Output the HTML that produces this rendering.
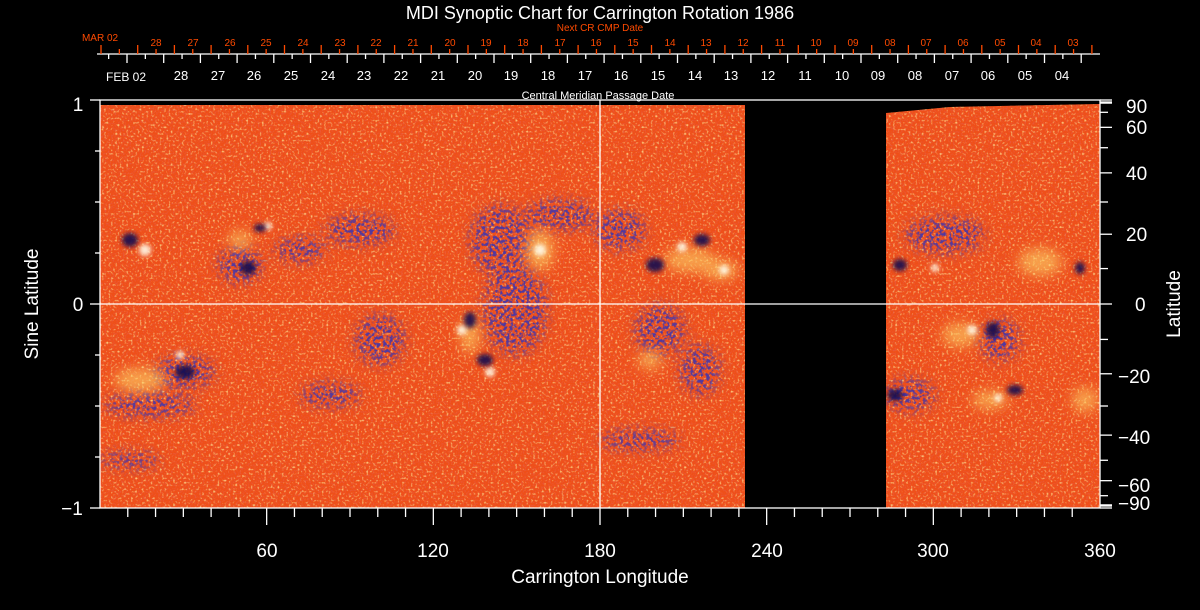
<!DOCTYPE html>
<html><head><meta charset="utf-8"><style>
html,body{margin:0;padding:0;background:#000;width:1200px;height:610px;overflow:hidden}
svg text{font-family:"Liberation Sans",sans-serif}
</style></head><body>
<svg id="s" width="1200" height="610" viewBox="0 0 1200 610" xmlns="http://www.w3.org/2000/svg">
<defs>
<filter id="b6" x="-50%" y="-50%" width="200%" height="200%"><feGaussianBlur stdDeviation="6"/></filter>
<filter id="b3" x="-50%" y="-50%" width="200%" height="200%"><feGaussianBlur stdDeviation="2.5"/></filter>
<filter id="noise" x="0" y="0" width="100%" height="100%">
<feTurbulence type="fractalNoise" baseFrequency="0.45" numOctaves="1" seed="3" result="t"/>
<feColorMatrix in="t" type="matrix" values="0 0 0 0 1  0 0 0 0 0.8  0 0 0 0 0.3  3 0 0 0 -1.65" />
</filter>
<filter id="noise2" x="0" y="0" width="100%" height="100%">
<feTurbulence type="fractalNoise" baseFrequency="0.6" numOctaves="1" seed="9" result="t"/>
<feColorMatrix in="t" type="matrix" values="0 0 0 0 0.8  0 0 0 0 0.1  0 0 0 0 0.05  3 0 0 0 -1.4" />
</filter>
<filter id="dk" x="0" y="0" width="100%" height="100%">
<feTurbulence type="fractalNoise" baseFrequency="0.3" numOctaves="2" seed="5" result="t"/>
<feColorMatrix in="t" type="matrix" values="0 0 0 0 0.08  0 0 0 0 0.04  0 0 0 0 0.35  5 0 0 0 -2.2" />
</filter>
<clipPath id="dc"><rect x="100" y="105" width="645" height="403"/><path d="M886 113 L950 107 L1100 104 L1100 508 L886 508Z"/></clipPath>
<mask id="dm"><rect x="0" y="0" width="1200" height="610" fill="#000"/>
<g fill="#fff" filter="url(#b6)">
<ellipse cx="240" cy="265" rx="22" ry="18"/><ellipse cx="185" cy="372" rx="30" ry="16"/>
<ellipse cx="150" cy="405" rx="45" ry="12"/><ellipse cx="330" cy="395" rx="30" ry="12"/>
<ellipse cx="380" cy="340" rx="25" ry="25"/><ellipse cx="500" cy="240" rx="30" ry="35"/>
<ellipse cx="515" cy="310" rx="32" ry="45"/><ellipse cx="360" cy="230" rx="35" ry="15"/>
<ellipse cx="560" cy="215" rx="35" ry="15"/><ellipse cx="660" cy="330" rx="25" ry="25"/>
<ellipse cx="700" cy="370" rx="20" ry="25"/><ellipse cx="945" cy="235" rx="40" ry="18"/>
<ellipse cx="910" cy="395" rx="25" ry="16"/><ellipse cx="1000" cy="340" rx="20" ry="20"/>
<ellipse cx="130" cy="460" rx="30" ry="8"/><ellipse cx="640" cy="440" rx="40" ry="10"/>
<ellipse cx="620" cy="230" rx="25" ry="20"/><ellipse cx="300" cy="250" rx="25" ry="12"/>
</g></mask>
</defs>
<g clip-path="url(#dc)">
<rect x="100" y="100" width="1000" height="408" fill="#ef4f18"/>
<rect x="100" y="100" width="1000" height="408" filter="url(#noise2)"/>
<rect x="100" y="100" width="1000" height="408" filter="url(#noise)"/>
<rect x="100" y="100" width="1000" height="408" filter="url(#dk)" mask="url(#dm)"/>
<g filter="url(#b6)" fill="#ffe070" opacity="0.55">
<ellipse cx="540" cy="250" rx="14" ry="20"/><ellipse cx="470" cy="335" rx="10" ry="18"/>
<ellipse cx="690" cy="260" rx="26" ry="12"/><ellipse cx="720" cy="270" rx="18" ry="10"/>
<ellipse cx="1040" cy="262" rx="22" ry="14"/><ellipse cx="960" cy="335" rx="18" ry="12"/>
<ellipse cx="990" cy="400" rx="18" ry="9"/><ellipse cx="1085" cy="400" rx="13" ry="12"/>
<ellipse cx="140" cy="380" rx="26" ry="12"/><ellipse cx="240" cy="240" rx="12" ry="9"/>
<ellipse cx="650" cy="360" rx="12" ry="9"/>
</g>
<g filter="url(#b3)" fill="#fffbe8" opacity="0.9">
<circle cx="145" cy="250" r="6"/><circle cx="268" cy="226" r="4"/><circle cx="540" cy="250" r="6"/>
<circle cx="462" cy="330" r="5"/><circle cx="490" cy="372" r="5"/><circle cx="682" cy="247" r="5"/>
<circle cx="935" cy="268" r="4"/><circle cx="972" cy="330" r="5"/><circle cx="998" cy="398" r="4"/>
<circle cx="180" cy="355" r="4"/><circle cx="724" cy="270" r="5"/>
</g>
<g filter="url(#b3)" fill="#120850" opacity="0.9">
<ellipse cx="130" cy="240" rx="8" ry="7"/><ellipse cx="260" cy="228" rx="6" ry="4"/>
<ellipse cx="248" cy="268" rx="8" ry="7"/><ellipse cx="185" cy="372" rx="10" ry="7"/>
<ellipse cx="485" cy="360" rx="8" ry="6"/><ellipse cx="655" cy="265" rx="9" ry="7"/>
<ellipse cx="702" cy="240" rx="8" ry="6"/><ellipse cx="900" cy="265" rx="7" ry="6"/>
<ellipse cx="993" cy="330" rx="7" ry="8"/><ellipse cx="1015" cy="390" rx="8" ry="5"/>
<ellipse cx="895" cy="395" rx="8" ry="6"/><ellipse cx="1080" cy="268" rx="5" ry="6"/>
<ellipse cx="470" cy="320" rx="6" ry="8"/>
</g>
</g>
<g stroke="#fff" stroke-width="1.3" fill="none">
<rect x="100" y="100" width="1000" height="408"/>
<line x1="600" y1="100" x2="600" y2="508"/>
<line x1="100" y1="304" x2="1100" y2="304"/>
<line x1="97" y1="54" x2="1100" y2="54"/>
<line x1="90" y1="508" x2="100" y2="508"/><line x1="90" y1="100" x2="100" y2="100"/><line x1="90" y1="304" x2="100" y2="304"/>
</g>
<g id="ticks" stroke-width="1.3"></g>
<g fill="#fff" text-anchor="middle">
<text x="600" y="19" font-size="18">MDI Synoptic Chart for Carrington Rotation 1986</text>
<text x="598" y="99" font-size="11">Central Meridian Passage Date</text>
<text x="126" y="81" font-size="12">FEB 02</text>
<g font-size="13">
<text x="181" y="80">28</text><text x="218" y="80">27</text><text x="254" y="80">26</text><text x="291" y="80">25</text><text x="328" y="80">24</text><text x="364" y="80">23</text><text x="401" y="80">22</text><text x="438" y="80">21</text><text x="475" y="80">20</text><text x="511" y="80">19</text><text x="548" y="80">18</text><text x="585" y="80">17</text><text x="621" y="80">16</text><text x="658" y="80">15</text><text x="695" y="80">14</text><text x="731" y="80">13</text><text x="768" y="80">12</text><text x="805" y="80">11</text><text x="842" y="80">10</text><text x="878" y="80">09</text><text x="915" y="80">08</text><text x="952" y="80">07</text><text x="988" y="80">06</text><text x="1025" y="80">05</text><text x="1062" y="80">04</text>
</g>
<g font-size="19">
<text x="267" y="557">60</text><text x="433" y="557">120</text><text x="600" y="557">180</text><text x="767" y="557">240</text><text x="933" y="557">300</text><text x="1100" y="557">360</text>
<text x="600" y="583">Carrington Longitude</text>
<text x="78" y="111">1</text><text x="78" y="311">0</text><text x="72" y="515">−1</text>
</g>
<text transform="translate(38 304) rotate(-90)" font-size="19">Sine Latitude</text>
<text transform="translate(1180 304) rotate(-90)" font-size="19">Latitude</text>
</g>
<g fill="#fff" font-size="19" text-anchor="start">
<text x="1126" y="113">90</text><text x="1126" y="134">60</text><text x="1126" y="180">40</text><text x="1126" y="241">20</text><text x="1135" y="311">0</text>
<text x="1118" y="383">−20</text><text x="1118" y="444">−40</text><text x="1118" y="492">−60</text><text x="1118" y="510">−90</text>
</g>
<g fill="#ff4a00" text-anchor="middle" font-size="10">
<text x="600" y="31">Next CR CMP Date</text>
<text x="100" y="41">MAR 02</text>
<text x="156" y="46">28</text><text x="193" y="46">27</text><text x="230" y="46">26</text><text x="266" y="46">25</text><text x="303" y="46">24</text><text x="340" y="46">23</text><text x="376" y="46">22</text><text x="413" y="46">21</text><text x="450" y="46">20</text><text x="486" y="46">19</text><text x="523" y="46">18</text><text x="560" y="46">17</text><text x="596" y="46">16</text><text x="633" y="46">15</text><text x="670" y="46">14</text><text x="706" y="46">13</text><text x="743" y="46">12</text><text x="780" y="46">11</text><text x="816" y="46">10</text><text x="853" y="46">09</text><text x="890" y="46">08</text><text x="926" y="46">07</text><text x="963" y="46">06</text><text x="1000" y="46">05</text><text x="1036" y="46">04</text><text x="1073" y="46">03</text>
</g>
</svg>
<script>
var g=document.getElementById('ticks'),h='';
function L(x1,y1,x2,y2,c){h+='<line x1="'+x1+'" y1="'+y1+'" x2="'+x2+'" y2="'+y2+'" stroke="'+c+'"/>';}
var d=36.7;
for(var i=0;i<28;i++){var x=101+i*d;if(x<=1101)L(x,45,x,54,'#ff4a00');var m=x+d/2;if(m<1100)L(m,49,m,54,'#ff4a00');}
for(var i=0;i<27;i++){var x=127+i*d;if(x<1100)L(x,54,x,63,'#fff');var m=x-d/2;if(m>100&&m<1100)L(m,54,m,59,'#fff');}
for(var k=10;k<360;k+=10){var x=100+k*1000/360;L(x,508,x,k%60==0?525:517,'#fff');}
for(var s=-0.75;s<1;s+=0.25){if(Math.abs(s)<0.01)continue;var y=304-204*s;L(95,y,100,y,'#fff');}
for(var a=-90;a<=90;a+=10){var y=304-204*Math.sin(a*Math.PI/180);L(1100,y,a%20==0||Math.abs(a)==90?1112:1108,y,'#fff');}
L(1100,102,1112,102,'#fff');L(1100,506,1112,506,'#fff');
g.innerHTML=h;
</script>
</body></html>
